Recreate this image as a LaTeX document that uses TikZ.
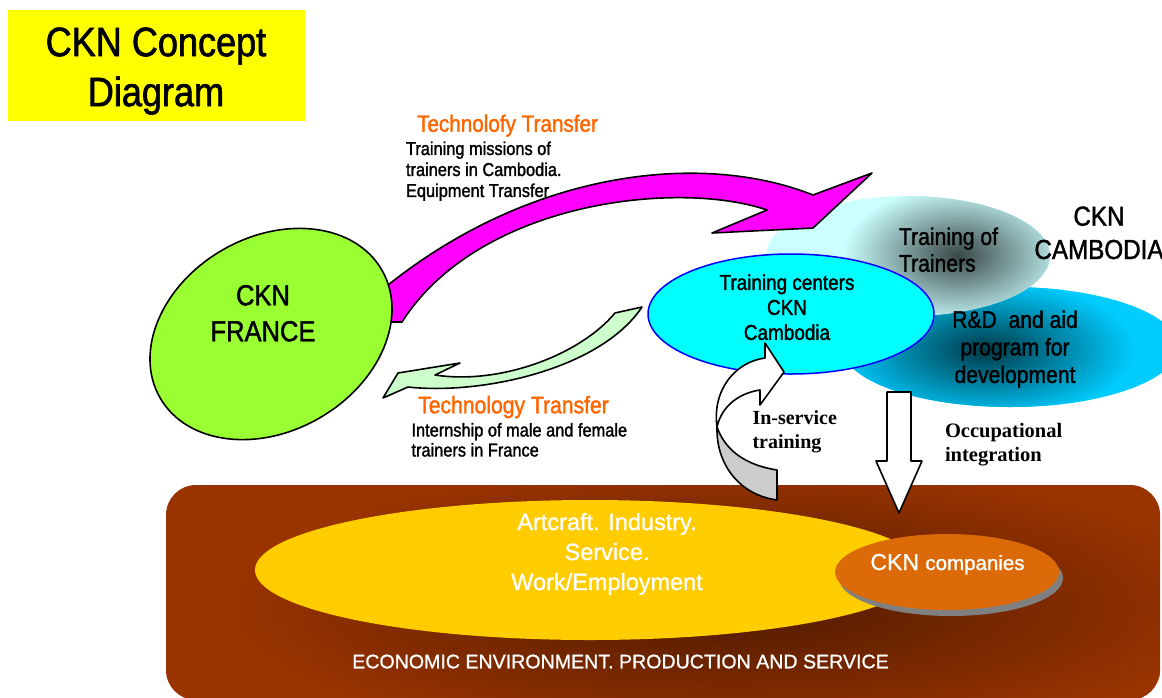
\documentclass[tikz,border=0pt]{standalone}
\usepackage{fontspec}
\setmainfont{Liberation Sans}
\newfontfamily\cnd[FakeStretch=0.88,FakeBold=1.5]{Liberation Sans}
\newfontfamily\wht[FakeBold=1]{Liberation Sans}
\newfontfamily\srf{Liberation Serif}
\newcommand\myfs[2]{\fontsize{#1pt}{#2pt}\selectfont}
\usetikzlibrary{shapes.geometric}
\definecolor{titleyellow}{HTML}{FFFF00}
\definecolor{frgreen}{HTML}{99FF33}
\definecolor{magarrow}{HTML}{FF00FF}
\definecolor{ltgreen}{HTML}{CCFFCC}
\definecolor{ltcyan}{HTML}{CCFFFF}
\definecolor{rdblue}{HTML}{00CCFF}
\definecolor{tccyan}{HTML}{00FFFF}
\definecolor{tcborder}{HTML}{0000FF}
\definecolor{brownbg}{HTML}{993300}
\definecolor{browndk}{HTML}{4E1A00}
\definecolor{ecoyellow}{HTML}{FFCC00}
\definecolor{ckorange}{HTML}{DD6A08}
\definecolor{shadowgray}{HTML}{808080}
\definecolor{backgray}{HTML}{CCCCCC}
\definecolor{ttorange}{HTML}{FF6600}
\begin{document}
\begin{tikzpicture}[x=1pt,y=-1pt,line join=round,
  edge/.style={draw=black,line width=1.6pt},
  txt/.style={inner sep=0pt,outer sep=0pt}]
\useasboundingbox (0,0) rectangle (1162,697);
\fill[white] (0,0) rectangle (1162,697);

% economic environment
\fill[brownbg,rounded corners=30pt] (166,485) rectangle (1160,700);
\begin{scope}
  \clip[rounded corners=30pt] (166,485) rectangle (1160,700);
  \shade[inner color=browndk,outer color=brownbg] (730,605) ellipse [x radius=500,y radius=140];
\end{scope}
\fill[ecoyellow] (590,570) ellipse [x radius=335,y radius=70];
\fill[shadowgray] (951,578) ellipse [x radius=112,y radius=38];
\fill[ckorange] (947,572) ellipse [x radius=112,y radius=38];

% CKN Cambodia ellipses
\fill[rdblue] (1010,347) ellipse [x radius=168,y radius=60];
\begin{scope}
  \clip (1010,347) ellipse [x radius=168,y radius=60];
  \shade[inner color=black!72!rdblue,outer color=rdblue] (985,350) ellipse [x radius=150,y radius=70];
\end{scope}
\fill[ltcyan] (908,256) ellipse [x radius=142,y radius=60];
\begin{scope}
  \clip (908,256) ellipse [x radius=142,y radius=60];
  \shade[inner color=black!72!ltcyan,outer color=ltcyan] (958,255) ellipse [x radius=115,y radius=70];
\end{scope}
\draw[fill=tccyan,draw=tcborder,line width=1.5pt] (791,314) ellipse [x radius=143,y radius=60];

% technology transfer arrows
\path[edge,fill=magarrow] (370,300) .. controls (520,170) and (700,150) .. (813,195)
  -- (872,173) -- (813,228) -- (712,233) -- (767,210)
  .. controls (680,180) and (480,200) .. (402,322) -- (372,322) -- cycle;
\draw[edge,fill=frgreen,rotate around={30:(271,334)}] (271,334) ellipse [x radius=128,y radius=97];
\path[edge,fill=ltgreen] (615,313) -- (642,307) .. controls (600,370) and (480,395) .. (408,387)
  -- (383,398) -- (398,373) -- (460,363) -- (435,375)
  .. controls (500,385) and (580,355) .. (615,313) -- cycle;

% in-service training arrow
\path[edge,fill=white] (717,427) .. controls (712,390) and (735,362) .. (765,358)
  -- (765,343) -- (784,372) -- (760,405) -- (760,390)
  .. controls (740,393) and (722,405) .. (717,427) -- cycle;
\path[edge,fill=backgray] (717,427) .. controls (716,465) and (740,495) .. (777,500)
  -- (777,470) .. controls (745,465) and (725,450) .. (717,427) -- cycle;

% occupational integration arrow
\path[edge,fill=white] (887,392) -- (911,392) -- (911,461) -- (922,461) -- (899,513)
  -- (876,461) -- (887,461) -- cycle;

% title
\fill[titleyellow] (8,10) rectangle (305,121);
\node[txt,anchor=north,align=center,font=\cnd\myfs{41}{50}] (title) at (156,27.5) {CKN Concept\\Diagram};

% texts
\node[txt,anchor=north,align=center,font=\cnd\myfs{29}{36}] (france) at (263,285) {CKN\\FRANCE};
\node[txt,anchor=base,font=\cnd\myfs{23.5}{28},text=ttorange] (tt1) at (507.5,131.7) {Technolofy Transfer};
\node[txt,anchor=north west,align=left,font=\cnd\myfs{18.6}{21}] (tt1text) at (406,141.5) {Training missions of\\trainers in Cambodia.\\Equipment Transfer};
\node[txt,anchor=base,font=\cnd\myfs{24}{28},text=ttorange] (tt2) at (513.5,413.3) {Technology Transfer};
\node[txt,anchor=north west,align=left,font=\cnd\myfs{18.6}{20}] (tt2text) at (411.5,423) {Internship of male and female\\trainers in France};
\node[txt,anchor=north,align=center,font=\cnd\myfs{21.5}{25}] (centers) at (787,274.3) {Training centers\\CKN\\Cambodia};
\node[txt,anchor=north west,align=left,font=\cnd\myfs{24}{26.7}] (tot) at (899,227.5) {Training of\\Trainers};
\node[txt,anchor=north,align=center,font=\cnd\myfs{27.5}{33.3}] (cambodia) at (1099,206.5) {CKN\\CAMBODIA};
\node[txt,anchor=north,align=center,font=\cnd\myfs{24}{27.5}] (rd) at (1015,310.5) {R\&D\ \ and aid\\program for\\development};
\node[txt,anchor=north west,align=left,font=\srf\bfseries\myfs{20}{24.3}] (inservice) at (752.5,410.5) {In-service\\training};
\node[txt,anchor=north west,align=left,font=\srf\bfseries\myfs{20.5}{23.4}] (occup) at (945,423.5) {Occupational\\integration};
\node[txt,anchor=north,align=center,font=\wht\myfs{23.5}{30},text=white] (artcraft) at (607,513) {Artcraft. Industry.\\Service.\\Work/Employment};
\node[txt,anchor=base,font=\wht,text=white] (companies) at (947.5,570) {\myfs{23}{26}CKN \myfs{20.5}{26}companies};
\node[txt,anchor=base,font=\wht\myfs{19.6}{24},text=white] (eco) at (620.5,668.3) {ECONOMIC ENVIRONMENT. PRODUCTION AND SERVICE};
\end{tikzpicture}
\end{document}
